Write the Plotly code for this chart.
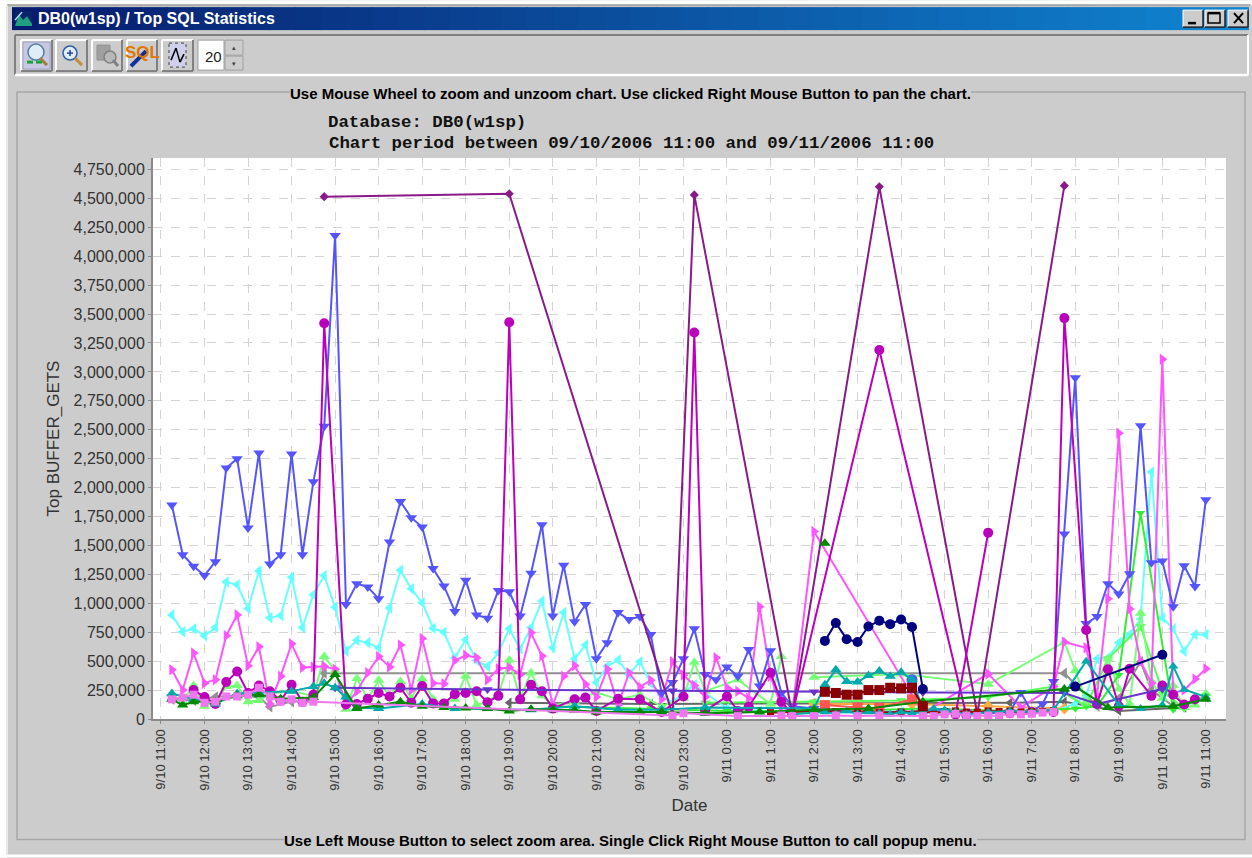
from datetime import datetime, timedelta
import plotly.graph_objects as go

# ---------- data: 15-minute slot index after 09/10/2006 11:00, values in thousands of buffer gets ----------
blue_slots = list(range(1, 59)) + [60, 62, 64, 66, 68, 70, 72, 74, 76, 78, 79, 80, 81, 82, 83, 84, 85, 86, 87, 88, 89, 90, 91, 92, 93, 94, 95, 96]
blue_vals = [1850, 1420, 1320, 1240, 1360, 2170, 2250, 1650, 2300, 1340, 1420, 2290, 1420, 2050, 2530, 4180, 990, 1170, 1140, 1040,
             1530, 1880, 1740, 1660, 1300, 1150, 930, 1200, 900, 870, 1110, 1100, 890, 1260, 1680, 890, 1330, 840, 990, 520,
             660, 920, 860, 885, 730, 225, 315, 520, 780, 385, 340, 450, 370, 600, 285, 590, 225, 110,
             90, 70, 60, 60, 55, 60, 70, 60, 50, 60, 230, 60, 130, 325, 1600, 2950, 825, 885, 1170, 1080, 1255, 2535, 1350, 1365, 970, 1325, 1145, 1895]

cyan_slots = list(range(1, 50)) + [52, 55, 58, 60, 64, 68, 72, 76, 80, 82, 84, 85, 86, 87, 88, 89, 90, 91, 92, 93, 94, 95, 96]
cyan_vals = [900, 755, 780, 720, 790, 1185, 1160, 955, 1280, 875, 895, 1225, 790, 1075, 1240, 965, 585, 680, 660, 615,
             960, 1285, 1125, 1005, 785, 750, 530, 685, 505, 455, 575, 780, 605, 790, 1020, 615, 920, 520, 640, 315,
             455, 510, 385, 495, 310, 210, 140, 230, 295, 90, 70, 60, 80, 50, 60, 50, 60, 60, 70, 130, 200, 520, 530, 660, 730, 865, 2135, 875, 780, 585, 730, 730, 1125]

pink_slots = list(range(1, 58)) + [58, 60, 70, 76, 79, 82, 83, 85, 86, 87, 88, 89, 90, 91, 92, 93, 94, 95, 96]
pink_vals = [425, 250, 570, 310, 340, 720, 900, 460, 625, 130, 370, 650, 445, 450, 455, 430, 120, 240, 400, 540,
             450, 640, 250, 695, 310, 305, 505, 550, 530, 340, 435, 445, 385, 745, 545, 120, 370, 460, 300, 190,
             430, 120, 400, 275, 335, 170, 495, 380, 290, 190, 530, 270, 240, 180, 970, 370, 105,
             60, 1620, 50, 390, 100, 280, 665, 615, 200, 1040, 2470, 950, 500, 310, 3110, 225, 250, 345, 435]

grey_slots = [1, 3, 5, 7, 9, 10, 12, 14, 15, 83, 86, 88, 90, 91, 93, 95, 96]
grey_vals = [170, 160, 190, 205, 190, 105, 150, 160, 395, 395, 110, 180, 495, 250, 110, 160, 190]

green_slots = [1, 2, 3, 4, 5, 6, 7, 8, 9, 10, 12, 14, 15, 16, 17, 18, 19, 20, 21, 22, 23, 24, 25, 26, 27, 28, 29, 30, 31, 32, 33, 34, 35, 36, 38, 40, 42, 44, 46, 48, 49, 50, 53, 56, 57]
green_vals = [210, 150, 290, 110, 150, 280, 290, 150, 160, 220, 240, 200, 540, 420, 85, 350, 170, 335, 190, 325, 180, 345, 170, 130, 170, 370, 120, 150, 210, 510, 180, 400, 200, 120, 150, 230, 170, 210, 110, 180, 490, 240, 340, 130, 540]

green2_slots = [60, 68, 76, 83, 84, 85, 86, 87, 88, 89, 90, 91, 92, 93, 94, 95, 96]
green2_vals = [360, 390, 300, 665, 420, 150, 130, 520, 260, 130, 915, 330, 180, 290, 100, 120, 220]

lime_slots = [36, 45, 52, 60, 70, 78, 84, 86, 88, 90, 93, 95, 96]
lime_vals = [110, 90, 70, 60, 90, 70, 90, 110, 380, 1780, 80, 150, 200]

lime2_slots = [50, 60, 68, 76, 82, 85, 87, 90, 92, 94]
lime2_vals = [140, 150, 160, 190, 280, 110, 520, 800, 240, 90]

magenta_slots = [3, 4, 5, 6, 7, 8, 9, 10, 11, 12, 13, 14, 15,
                 17, 18, 19, 20, 21, 22, 23, 24, 25, 26, 27, 28, 29, 30, 31, 32,
                 33, 34, 35, 36, 38, 39, 40, 42, 44, 46, 48, 49,
                 50, 52, 53, 54, 56, 57, 58, 66, 74]
magenta_vals = [250, 190, 130, 320, 410, 225, 290, 240, 160, 295, 150, 210, 3420,
                125, 130, 175, 225, 195, 270, 140, 285, 135, 135, 215, 225, 240, 145, 200, 3430,
                170, 295, 240, 90, 170, 185, 70, 175, 170, 60, 195, 3340,
                70, 195, 70, 105, 400, 150, 40, 3190, 30]
magenta2_slots = [73, 76]
magenta2_vals = [40, 1610]
magenta3_slots = [78, 80, 82, 83, 85, 86, 87, 88, 89, 91, 92, 93, 94, 95]
magenta3_vals = [50, 60, 60, 3465, 770, 130, 430, 110, 435, 200, 290, 210, 125, 170]

purple_slots = [15, 32, 47, 49, 58, 66, 75, 83]
purple_vals = [4515, 4540, 40, 4530, 40, 4600, 45, 4610]

violet_slots = [16, 30, 47, 60, 70, 83, 86, 92]
violet_vals = [270, 255, 245, 235, 230, 225, 130, 260]

navy_slots = [61, 62, 63, 64, 65, 66, 67, 68, 69, 70]
navy_vals = [675, 830, 690, 665, 800, 850, 820, 860, 795, 260]
navy2_slots = [84, 92]
navy2_vals = [280, 555]

maroon_slots = [61, 62, 63, 64, 65, 66, 67, 68, 69, 70]
maroon_vals = [235, 225, 210, 210, 250, 250, 270, 265, 270, 110]
maroon2_slots = [56, 58, 60, 62, 64, 66, 68, 70, 71, 72, 73, 74, 75, 76, 77, 78, 79, 80, 81, 82]
maroon2_vals = [55, 60, 70, 65, 60, 55, 60, 70, 50, 65, 70, 60, 60, 70, 65, 70, 60, 65, 65, 70]

salmon_slots = [61, 64, 66, 69]
salmon_vals = [120, 100, 95, 170]

teal_slots = [1, 3, 5, 7, 9, 12, 14, 15, 16, 17, 18, 20, 24, 27, 34, 38, 42, 46, 50, 60, 61, 62, 63, 64, 65, 66, 67, 68, 69, 70]
teal_vals = [220, 170, 130, 220, 230, 240, 280, 310, 270, 190, 100, 90, 130, 90, 80, 110, 80, 80, 100, 90, 295, 425, 325, 320, 375, 415, 370, 405, 340, 90]
teal2_slots = [58, 60, 61, 62, 63, 64, 65, 66, 67, 68, 69, 70, 71, 72, 73, 74, 76, 78, 80, 82, 85, 88, 90, 92, 93, 94, 96]
teal2_vals = [40, 50, 60, 45, 70, 45, 60, 50, 40, 60, 50, 60, 90, 80, 60, 40, 60, 70, 60, 80, 500, 120, 90, 120, 455, 255, 190]

forest_slots = [1, 2, 3, 5, 7, 9, 11, 14, 16, 18, 20, 22, 24, 26, 28, 30, 32, 34, 36, 38, 40, 44, 46, 50, 55, 60, 65, 70, 83, 84, 87, 93, 96]
forest_vals = [170, 120, 150, 150, 200, 210, 175, 185, 385, 90, 120, 150, 110, 100, 95, 90, 70, 85, 80, 75, 60, 60, 60, 50, 60, 80, 90, 150, 260, 280, 100, 110, 170]
forest2_slots = [61]
forest2_vals = [1520]

lilac_slots = [1, 2, 3, 4, 5, 6, 7, 8, 9, 10, 11, 12, 13, 14, 47, 48, 53, 57, 58, 60, 62, 64, 66, 70, 71, 72, 73, 74, 75, 76, 77, 78, 79, 80, 81, 82]
lilac_vals = [170, 185, 210, 140, 150, 195, 195, 210, 270, 195, 150, 170, 140, 150, 30, 50, 25, 30, 25, 25, 30, 25, 30, 25, 25, 40, 45, 30, 25, 30, 25, 45, 40, 45, 55, 60]

slate_slots = [32, 45, 60, 69, 78, 83, 88, 94]
slate_vals = [140, 130, 135, 140, 140, 150, 70, 100]

orange_slots = [60, 69, 76, 83]
orange_vals = [130, 130, 110, 90]

slateblue_slots = [69]
slateblue_vals = [340]

HOUR_LABELS = ["9/10 11:00", "9/10 12:00", "9/10 13:00", "9/10 14:00", "9/10 15:00", "9/10 16:00", "9/10 17:00", "9/10 18:00",
               "9/10 19:00", "9/10 20:00", "9/10 21:00", "9/10 22:00", "9/10 23:00", "9/11 0:00", "9/11 1:00", "9/11 2:00",
               "9/11 3:00", "9/11 4:00", "9/11 5:00", "9/11 6:00", "9/11 7:00", "9/11 8:00", "9/11 9:00", "9/11 10:00", "9/11 11:00"]
Y_TICKS = list(range(0, 4750001, 250000))

START = datetime(2006, 9, 10, 11, 0)


def when(slot):
    return START + timedelta(minutes=15 * slot)


SERIES = [
    (slate_slots, slate_vals, "#666666", "triangle-left", 9),
    (grey_slots, grey_vals, "#909090", "triangle-left", 10),
    (orange_slots, orange_vals, "#ffaa44", "diamond", 9),
    (cyan_slots, cyan_vals, "#66ffff", "triangle-left", 10),
    (lime2_slots, lime2_vals, "#55ff55", "triangle-down", 9),
    (green_slots, green_vals, "#77ff77", "triangle-up", 10),
    (green2_slots, green2_vals, "#77ff77", "triangle-up", 10),
    (lime_slots, lime_vals, "#33ee33", "triangle-down", 8),
    (pink_slots, pink_vals, "#ff55ff", "triangle-right", 10),
    (blue_slots, blue_vals, "#5555ff", "triangle-down", 10),
    (slateblue_slots, slateblue_vals, "#5555ff", "circle", 11),
    (purple_slots, purple_vals, "#8a1a8a", "diamond", 7),
    (magenta_slots, magenta_vals, "#bb00bb", "circle", 10),
    (magenta2_slots, magenta2_vals, "#bb00bb", "circle", 10),
    (magenta3_slots, magenta3_vals, "#bb00bb", "circle", 10),
    (violet_slots, violet_vals, "#6633cc", "triangle-down", 9),
    (salmon_slots, salmon_vals, "#ff5555", "square", 10),
    (maroon2_slots, maroon2_vals, "#aa0000", "square", 7),
    (teal_slots, teal_vals, "#00aaaa", "triangle-up", 10),
    (teal2_slots, teal2_vals, "#00aaaa", "triangle-up", 9),
    (forest_slots, forest_vals, "#008800", "triangle-up", 10),
    (forest2_slots, forest2_vals, "#008800", "triangle-up", 10),
    (maroon_slots, maroon_vals, "#880000", "square", 10),
    (navy_slots, navy_vals, "#000080", "circle", 10),
    (navy2_slots, navy2_vals, "#000080", "circle", 10),
    (lilac_slots, lilac_vals, "#ee77ee", "square", 8),
]

fig = go.Figure()
for slots, vals, color, symbol, size in SERIES:
    fig.add_trace(go.Scatter(
        x=[when(s) for s in slots], y=[v * 1000 for v in vals], mode="lines+markers",
        line=dict(color=color, width=2), marker=dict(color=color, symbol=symbol, size=size),
        showlegend=False,
    ))

# ---------- window chrome, positioned in page pixels ----------
PL, PR, PT, PB = 153, 1226, 158, 719.5


def fx(px):
    return (px - PL) / (PR - PL)


def fy(py):
    return (PB - py) / (PB - PT)


shapes = []
notes = []


def rect(x0, y0, x1, y1, fill=None, line=None, w=1):
    shapes.append(dict(type="rect", xref="paper", yref="paper", x0=fx(x0), x1=fx(x1), y0=fy(y0), y1=fy(y1),
                       fillcolor=fill or "rgba(0,0,0,0)", line=dict(color=line or "rgba(0,0,0,0)", width=w if line else 0),
                       layer="below"))


def seg(x0, y0, x1, y1, color, w=1):
    shapes.append(dict(type="line", xref="paper", yref="paper", x0=fx(x0), x1=fx(x1), y0=fy(y0), y1=fy(y1),
                       line=dict(color=color, width=w), layer="below"))


def circ(x0, y0, x1, y1, fill, line, w=1):
    shapes.append(dict(type="circle", xref="paper", yref="paper", x0=fx(x0), x1=fx(x1), y0=fy(y0), y1=fy(y1),
                       fillcolor=fill, line=dict(color=line, width=w), layer="below"))


def text(px, py, s, size, color="#000000", family="Liberation Sans", anchor="center", bg=None, bold=False):
    notes.append(dict(xref="paper", yref="paper", x=fx(px), y=fy(py), text=f"<b>{s}</b>" if bold else s, showarrow=False,
                      xanchor=anchor, yanchor="middle", font=dict(size=size, color=color, family=family),
                      bgcolor=bg, borderpad=0, borderwidth=0))


# white page margins round the window
rect(0, 0, 1252, 4, "#ffffff")
rect(0, 0, 7, 858, "#ffffff")
rect(0, 855, 1252, 858, "#ffffff")
seg(7, 5, 1250, 5, "#a8a8a8", 2)
seg(7, 5, 7, 855, "#e8e8e8", 2)
# title bar gradient
N = 48
x_a, x_b = 12, 1248
for i in range(N):
    t = i / (N - 1)
    r = int(8 + (16 - 8) * t)
    g = int(28 + (132 - 28) * t)
    b = int(110 + (208 - 110) * t)
    rect(x_a + (x_b - x_a) * i / N, 7, x_a + (x_b - x_a) * (i + 1) / N + 1, 30, f"rgb({r},{g},{b})")
text(38, 18.5, "DB0(w1sp) / Top SQL Statistics", 16, "#ffffff", anchor="left", bold=True)
# title icon
rect(15, 11, 32, 26, "#0a246a")
shapes.append(dict(type="path", xref="paper", yref="paper",
                   path=f"M {fx(15)} {fy(26)} L {fx(19)} {fy(14)} L {fx(23)} {fy(20)} L {fx(27)} {fy(16)} L {fx(32)} {fy(24)} L {fx(32)} {fy(26)} Z",
                   fillcolor="#20a080", line=dict(width=0), layer="below"))
seg(15, 20, 22, 12, "#c8e0ff", 1.5)
# window buttons
for x0, x1 in ((1183, 1203), (1205, 1225), (1228, 1248)):
    rect(x0, 10, x1, 27, "#cccccc", None)
    seg(x0, 10, x1, 10, "#ffffff")
    seg(x0, 10, x0, 27, "#ffffff")
    seg(x0, 27, x1, 27, "#202020", 1.5)
    seg(x1, 10, x1, 27, "#202020", 1.5)
seg(1188, 23, 1196, 23, "#000000", 2.5)
rect(1208, 13, 1220, 23, None, "#000000", 1.5)
seg(1208, 13, 1220, 13, "#000000", 2.5)
seg(1234, 13, 1243, 23, "#000000", 2)
seg(1243, 13, 1234, 23, "#000000", 2)
# toolbar
seg(15, 35, 1248, 35, "#808080", 2)
seg(15, 35, 15, 75, "#808080", 2)
seg(15, 75, 1248, 75, "#ffffff", 2.5)
seg(1248, 35, 1248, 75, "#ffffff", 2)
for x0, x1 in ((21, 52), (56, 87), (92, 122), (127, 157), (162, 193)):
    rect(x0, 40, x1, 71, "#cccccc", None)
    seg(x0, 40, x1, 40, "#ffffff", 2)
    seg(x0, 40, x0, 71, "#ffffff", 2)
    seg(x0, 71, x1, 71, "#808080", 2)
    seg(x1, 40, x1, 71, "#808080", 2)
rect(23, 42, 50, 69, "#c8c8e0", "#a0a0c8")
circ(28, 44, 44, 60, "#e0ecf8", "#5080a0", 1.5)
seg(40, 58, 47, 65, "#a08040", 3)
seg(27, 62, 33, 62, "#20a040", 3)
seg(36, 62, 42, 62, "#20a040", 3)
circ(63, 46, 77, 60, "#e0ecf8", "#3060a0", 1.5)
seg(67, 53, 73, 53, "#2040a0", 1.5)
seg(70, 50, 70, 56, "#2040a0", 1.5)
seg(75, 58, 82, 65, "#c09040", 3)
rect(97, 45, 110, 60, "#a0a0a0", "#909090")
circ(104, 51, 116, 63, "#b8b8b8", "#808080", 1.5)
seg(113, 60, 118, 66, "#808080", 3)
seg(131, 66, 146, 51, "#1030a0", 4)
text(142, 52, 'SQL', 17, "#e07800", family="Liberation Sans", bold=True)
rect(169, 43, 186, 67, "#d0d0ec", "#404040")
shapes[-1]["line"]["dash"] = "dot"
for a, b, c, d in ((171, 60, 176, 48), (176, 48, 180, 62), (180, 62, 184, 54)):
    seg(a, b, c, d, "#000000", 1.5)
rect(198, 40, 224, 70, "#ffffff", "#a0a0a0")
text(213, 56.5, "20", 15, "#202020")
for y0, y1 in ((40, 55), (56, 70)):
    rect(225, y0, 243, y1, "#cccccc", "#a0a0a0")
text(234, 47, "\u25B4", 7, "#404040")
text(234, 63, "\u25BE", 7, "#404040")
# titled border
rect(17, 92, 1245, 840, None, "#a6a6a6", 1.5)
text(630.5, 93, "Use Mouse Wheel to zoom and unzoom chart. Use clicked Right Mouse Button to pan the chart.", 15, bg="#cccccc", bold=True)
text(630, 841, "Use Left Mouse Button to select zoom area. Single Click Right Mouse Button to call popup menu.", 15, bg="#cccccc", bold=True)
text(328, 122, "Database: DB0(w1sp)", 17.4, "#111111", "Liberation Mono", "left", bold=True)
text(329, 143, "Chart period between 09/10/2006 11:00 and 09/11/2006 11:00", 17.4, "#111111", "Liberation Mono", "left", bold=True)

fig.update_layout(
    width=1252, height=858, margin=dict(l=PL, r=1252 - PR, t=PT, b=858 - PB, autoexpand=False),
    paper_bgcolor="#cccccc", plot_bgcolor="#ffffff", shapes=shapes, annotations=notes,
    font=dict(family="Liberation Sans", color="#333333"),
    xaxis=dict(type="date", range=[when(-0.73), when(97.85)], tickmode="array",
               tickvals=[when(4 * i) for i in range(len(HOUR_LABELS))], ticktext=HOUR_LABELS, tickangle=-90,
               tickfont=dict(size=13, color="#333333"), ticks="outside", ticklen=3, tickcolor="#888888",
               showgrid=True, gridcolor="#d4d4d4", griddash="dash", gridwidth=1,
               showline=True, linecolor="#8a8a8a", linewidth=2, zeroline=False,
               title=dict(text="Date", font=dict(size=17, color="#333333"), standoff=9)),
    yaxis=dict(range=[0, 4849000], tickmode="array", tickvals=Y_TICKS, tickformat=",d",
               tickfont=dict(size=16, color="#333333"), ticks="outside", ticklen=3, tickcolor="#888888",
               showgrid=True, gridcolor="#d4d4d4", griddash="dash", gridwidth=1,
               showline=True, linecolor="#8a8a8a", linewidth=2, zeroline=False,
               title=dict(text="Top BUFFER_GETS", font=dict(size=17, color="#333333"), standoff=10)),
)

fig.write_html("out.html", config={"displayModeBar": False},
               post_script="document.body.style.margin='0';document.documentElement.style.overflow='hidden';")
